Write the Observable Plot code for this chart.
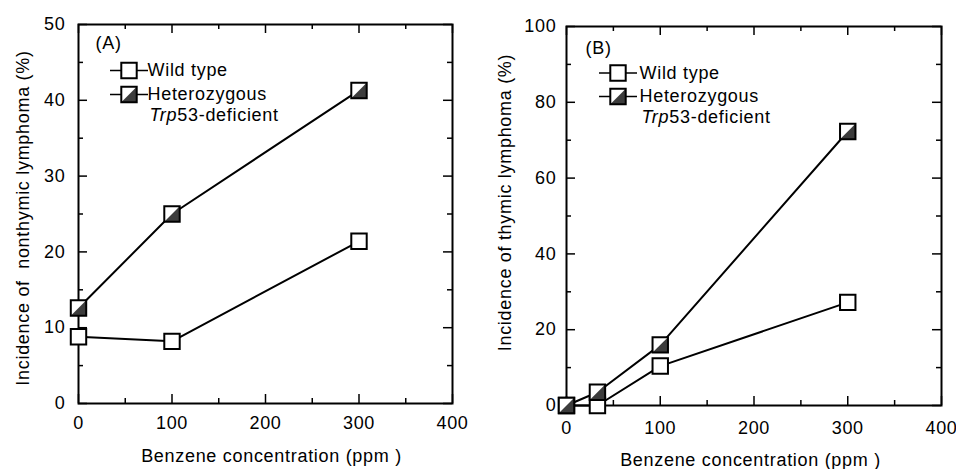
<!DOCTYPE html>
<html><head><meta charset="utf-8">
<script src="https://cdn.jsdelivr.net/npm/d3@7"></script>
<script src="https://cdn.jsdelivr.net/npm/@observablehq/plot@0.6"></script>
<style>
body{margin:0;background:#fff;}
#wrap{position:relative;width:956px;height:469px;background:#fff;}
#wrap svg{position:absolute;top:0;overflow:visible;}
</style></head><body><div id="wrap"></div>
<script>
// Panel A: non-thymic lymphoma
const doseA = [0, 100, 300];
const wildA = [8.8, 8.2, 21.4];
const hetA = [12.6, 25.0, 41.3];
// Panel B: thymic lymphoma
const doseB = [0, 33, 100, 300];
const wildB = [0, 0, 10.4, 27.2];
const hetB = [0, 3.5, 16.0, 72.3];
// ticks
const xMajor = [0, 100, 200, 300, 400];
const xMinor = [50, 150, 250, 350];
const yMajorA = [0, 10, 20, 30, 40, 50];
const yMinorA = [5, 15, 25, 35, 45];
const yMajorB = [0, 20, 40, 60, 80, 100];
const yMinorB = [10, 30, 50, 70, 90];
// texts
const legendWild = "Wild type";
const legendHet1 = "Heterozygous";
const legendHet2 = "Trp53-deficient";
const xTitle = "Benzene concentration (ppm )";
const yTitleA = "Incidence of\u00a0 nonthymic lymphoma (%)";
const yTitleB = "Incidence of thymic lymphoma (%)";

const halfTri = {draw(ctx, size){ const s = Math.sqrt(size)/2; ctx.moveTo(-s, s); ctx.lineTo(s, -s); ctx.lineTo(s, s); ctx.closePath(); }};
const legendLine = {draw(ctx){ ctx.moveTo(-19, 0); ctx.lineTo(19, 0); }};
const R = 8.7, HET_FILL = "#3c3c3c";

function panel(c) {
  const innerW = c.width - c.ml - c.mr, innerH = c.height - c.mt - c.mb;
  const rows = c.dose.map((x, i) => ({x, wild: c.wild[i], het: c.het[i]}));
  const tick = (vals, len, side) => {
    if (side === "bottom") return Plot.ruleX(vals, {insetTop: innerH - len, stroke: "#000", strokeWidth: 1.5});
    if (side === "top") return Plot.ruleX(vals, {insetBottom: innerH - len, stroke: "#000", strokeWidth: 1.5});
    if (side === "left") return Plot.ruleY(vals, {insetRight: innerW - len, stroke: "#000", strokeWidth: 1.5});
    return Plot.ruleY(vals, {insetLeft: innerW - len, stroke: "#000", strokeWidth: 1.5});
  };
  const L = c.leg;
  const tl = {frameAnchor: "top-left"};
  return Plot.plot({
    width: c.width, height: c.height,
    marginLeft: c.ml, marginRight: c.mr, marginTop: c.mt, marginBottom: c.mb,
    style: {fontFamily: "'Liberation Sans', Arial, sans-serif", fontSize: "18px", letterSpacing: "0.7px", background: "transparent", overflow: "visible", color: "#000"},
    x: {domain: [0, 400]},
    y: {domain: c.ydomain},
    marks: [
      Plot.frame({stroke: "#000", strokeWidth: 2}),
      tick(xMajor, 9, "bottom"), tick(xMajor, 9, "top"),
      tick(xMinor, 5, "bottom"), tick(xMinor, 5, "top"),
      tick(c.yMajor, 9, "left"), tick(c.yMajor, 9, "right"),
      tick(c.yMinor, 5, "left"), tick(c.yMinor, 5, "right"),
      Plot.axisX({ticks: xMajor, tickSize: 0, tickPadding: c.xpad, label: null, fill: "#000"}),
      Plot.axisY({ticks: c.yMajor, tickSize: 0, tickPadding: c.ypad, label: null, fill: "#000"}),
      Plot.text([xTitle], {text: d => d, frameAnchor: "bottom", dx: c.xtdx, dy: c.xtdy, lineAnchor: "middle", fill: "#000"}),
      Plot.text([c.yTitle], {text: d => d, frameAnchor: "left", rotate: -90, dx: c.ytdx, dy: c.ytdy, lineAnchor: "middle", textAnchor: "middle", fill: "#000"}),
      Plot.line(rows, {x: "x", y: "wild", stroke: "#000", strokeWidth: 2}),
      Plot.line(rows, {x: "x", y: "het", stroke: "#000", strokeWidth: 2}),
      Plot.dot(rows, {x: "x", y: "wild", symbol: "square", r: R, fill: "#fff", stroke: "#000", strokeWidth: 2}),
      Plot.dot(rows, {x: "x", y: "het", symbol: "square", r: R, fill: "#fff", stroke: "none"}),
      Plot.dot(rows, {x: "x", y: "het", symbol: halfTri, r: R, fill: HET_FILL, stroke: "none"}),
      Plot.dot(rows, {x: "x", y: "het", symbol: "square", r: R, fill: "none", stroke: "#000", strokeWidth: 2}),
      // legend
      Plot.text([c.tag], {...tl, text: d => d, dx: L.tagdx, dy: L.tagdy, textAnchor: "start", lineAnchor: "middle", fill: "#000"}),
      Plot.dot([0], {...tl, dx: L.mdx, dy: L.r1, symbol: legendLine, r: R, fill: "none", stroke: "#000", strokeWidth: 1.6}),
      Plot.dot([0], {...tl, dx: L.mdx, dy: L.r1, symbol: "square", r: R, fill: "#fff", stroke: "#000", strokeWidth: 2}),
      Plot.dot([0], {...tl, dx: L.mdx, dy: L.r2, symbol: legendLine, r: R, fill: "none", stroke: "#000", strokeWidth: 1.6}),
      Plot.dot([0], {...tl, dx: L.mdx, dy: L.r2, symbol: "square", r: R, fill: "#fff", stroke: "none"}),
      Plot.dot([0], {...tl, dx: L.mdx, dy: L.r2, symbol: halfTri, r: R, fill: HET_FILL, stroke: "none"}),
      Plot.dot([0], {...tl, dx: L.mdx, dy: L.r2, symbol: "square", r: R, fill: "none", stroke: "#000", strokeWidth: 2}),
      Plot.text([legendWild], {...tl, text: d => d, dx: L.tdx, dy: L.r1, textAnchor: "start", lineAnchor: "middle", fill: "#000"}),
      Plot.text([legendHet1], {...tl, text: d => d, dx: L.tdx, dy: L.r2, textAnchor: "start", lineAnchor: "middle", fill: "#000"}),
      Plot.text([legendHet2], {...tl, text: d => d, dx: L.tdx + 2, dy: L.r3, textAnchor: "start", lineAnchor: "middle", fill: "#000"})
    ]
  });
}

const wrap = document.getElementById("wrap");
const A = panel({
  width: 478, height: 469, ml: 78, mr: 26, mt: 24, mb: 66,
  dose: doseA, wild: wildA, het: hetA, ydomain: [0, 50], yMajor: yMajorA, yMinor: yMinorA,
  xpad: 13, ypad: 13, xtdx: 6, xtdy: 53, yTitle: yTitleA, ytdx: -55.5, ytdy: 4, tag: "(A)",
  leg: {tagdx: 17, tagdy: 19, mdx: 50.5, tdx: 69, r1: 46, r2: 70, r3: 91}
});
A.style.left = "0px";
const B = panel({
  width: 476, height: 469, ml: 86, mr: 15, mt: 26, mb: 64,
  dose: doseB, wild: wildB, het: hetB, ydomain: [0, 100], yMajor: yMajorB, yMinor: yMinorB,
  xpad: 16, ypad: 10, xtdx: -3.5, xtdy: 54.6, yTitle: yTitleB, ytdx: -61, ytdy: -13.5, tag: "(B)",
  leg: {tagdx: 19, tagdy: 22, mdx: 51.5, tdx: 73, r1: 46.5, r2: 70, r3: 91}
});
B.style.left = "480px";
wrap.append(A, B);
for (const t of wrap.querySelectorAll("text")) {
  if (t.textContent === legendHet2) {
    t.textContent = "";
    const ns = "http://www.w3.org/2000/svg";
    const it = document.createElementNS(ns, "tspan");
    it.setAttribute("font-style", "italic");
    it.textContent = "Trp";
    const rest = document.createElementNS(ns, "tspan");
    rest.textContent = "53-deficient";
    t.append(it, rest);
  }
}
</script></body></html>
